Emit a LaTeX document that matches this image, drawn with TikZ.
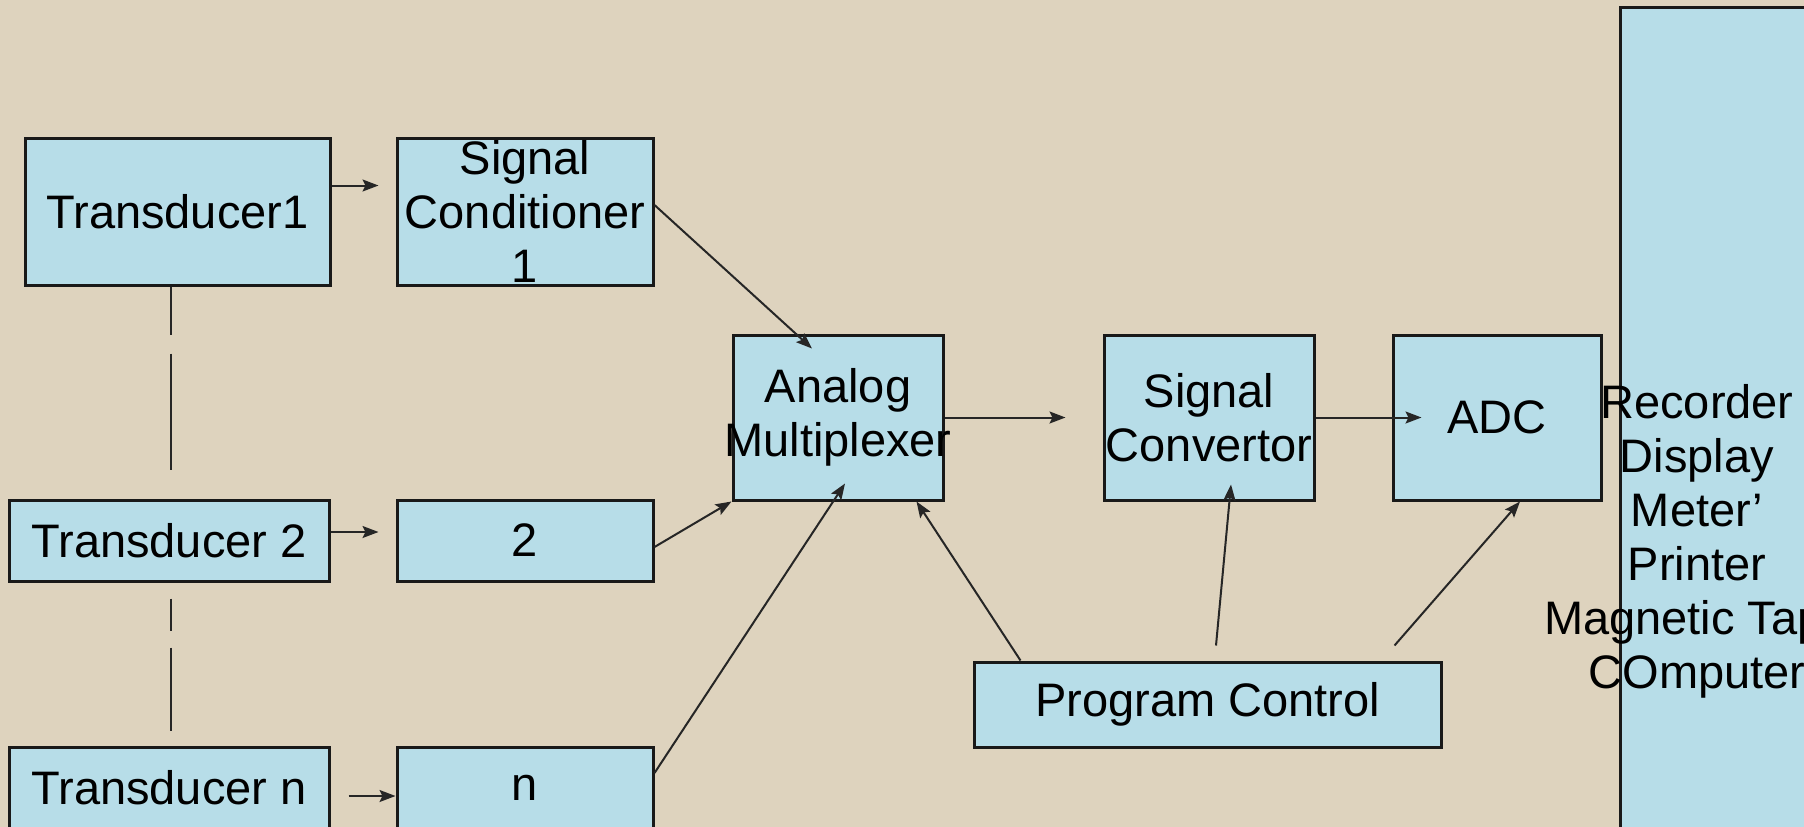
\documentclass[tikz,border=0pt]{standalone}
\usepackage{fontspec}
\setmainfont{Liberation Sans}
\usepackage{tikz}
\usetikzlibrary{arrows.meta}

\definecolor{canvas}{RGB}{222,211,190}
\definecolor{boxblue}{RGB}{183,221,232}

\tikzset{
  blk/.style={draw=black!90,line width=3pt,fill=boxblue,inner sep=0pt,align=center,text=black},
  conn/.style={->,draw=black!85,line width=2pt},
  dots/.style={draw=black!85,line width=2.5pt}
}

\begin{document}
\begin{tikzpicture}[>={Stealth[length=16pt,width=12pt,inset=3pt]},x=1pt,y=-1pt,font=\fontsize{47}{54}\selectfont]
          \useasboundingbox (0,0) rectangle (1804,827);
          \clip (0,0) rectangle (1804,827);
          \fill[canvas] (0,0) rectangle (1804,827);

          \node[blk,minimum width=305pt,minimum height=147pt] (t1) at (177.5,211.5) {Transducer1};
          \node[blk,minimum width=256pt,minimum height=147pt] (sc1) at (525,211.5) {Signal\\Conditioner\\1};
          \node[blk,minimum width=320pt,minimum height=81pt] (t2) at (169,540.5) {Transducer 2};
          \node[blk,minimum width=256pt,minimum height=81pt] (sc2) at (525,540.5) {2};
          \node[blk,minimum width=320pt,minimum height=81pt] (tn) at (169,787.5) {Transducer n};
          \node[blk,minimum width=256pt,minimum height=81pt] (scn) at (525,787.5) {n};
          \node[blk,minimum width=210pt,minimum height=165pt] (mux) at (838,417.5) {Analog\\\makebox[0pt]{Multiplexer}};
          \node[blk,minimum width=210pt,minimum height=165pt] (conv) at (1209,417.5) {Signal\\\makebox[0pt]{Convertor}};
          \node[blk,minimum width=208pt,minimum height=165pt] (adc) at (1497,417.5) {ADC};
          \node[blk,minimum width=467pt,minimum height=85pt] (prog) at (1207.5,704.5) {Program Control};
          \node[blk,minimum width=400pt,minimum height=1000pt,anchor=north west] (out) at (1619,6) {};
          \node[align=center,text=black] (outtxt) at (1697,541) {Recorder\\Display\\Meter’\\Printer\\Magnetic Tape\\COmputer};

          \draw[dots,dash pattern=on 48pt off 19pt on 116pt off 40pt]
                     ([xshift=-6.5pt]t1.south) -- ([xshift=2pt]t2.north);
          \draw[dots,dash pattern=on 0pt off 16pt on 32pt off 17pt on 83pt off 40pt]
                     ([xshift=2pt]t2.south) -- ([xshift=2pt]tn.north);

          \draw[conn] ([yshift=26pt]t1.east) -- ([shift={(-17pt,26pt)}]sc1.west);
          \draw[conn] ([yshift=8.5pt]t2.east) -- ([shift={(-17pt,8.5pt)}]sc2.west);
          \draw[conn] ([shift={(18pt,-8.5pt)}]tn.east) -- ([yshift=-8.5pt]scn.west);

          \draw[conn] ([yshift=6.5pt]sc1.east) -- ([shift={(-26pt,-15pt)}]mux.north);
          \draw[conn] ([yshift=-6.5pt]sc2.east) -- (mux.south west);
          \draw[conn] ([yshift=14.5pt]scn.east) -- ([shift={(7pt,18pt)}]mux.south);

          \draw[conn] ([xshift=48pt]prog.north west) -- ([xshift=-28pt]mux.south east);
          \draw[conn] ([shift={(8.5pt,15pt)}]prog.north) -- ([shift={(22pt,17pt)}]conv.south);
          \draw[conn] ([shift={(-48pt,15pt)}]prog.north east) -- ([xshift=23pt]adc.south);

          \draw[conn] (mux.east) -- ([xshift=-37pt]conv.west);
          \draw[conn] (conv.east) -- ([xshift=30pt]adc.west);
        \end{tikzpicture}
\end{document}
